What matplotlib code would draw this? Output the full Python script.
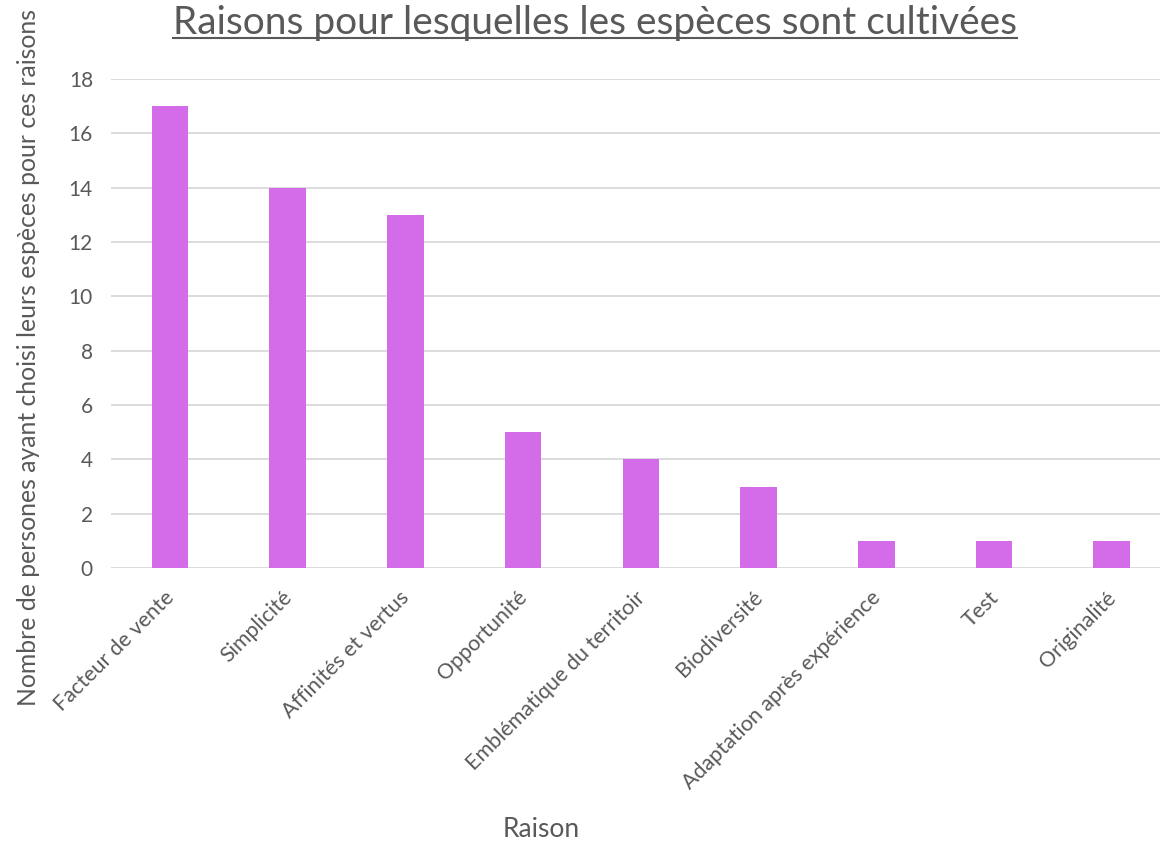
import matplotlib.pyplot as plt
import matplotlib.transforms as mtransforms
from matplotlib.lines import Line2D

raisons = ["Facteur de vente", "Simplicité", "Affinités et vertus", "Opportunité",
           "Emblématique du territoir", "Biodiversité", "Adaptation après expérience",
           "Test", "Originalité"]
nombres = [17, 14, 13, 5, 4, 3, 1, 1, 1]
yticks = [0, 2, 4, 6, 8, 10, 12, 14, 16, 18]

plt.rcParams['font.family'] = ['Lato', 'DejaVu Sans']
gris = '#595959'

fig = plt.figure(figsize=(11.63, 8.42), dpi=100)
ax = fig.add_axes([111 / 1163, 274 / 842, 1049 / 1163, 489 / 842])

ax.bar(range(len(raisons)), nombres, width=0.31, color='#d46be8', zorder=3)

ax.set_ylim(0, 18)
ax.set_xlim(-0.5, 8.41)
ax.set_yticks(yticks)
ax.yaxis.grid(True, color='#d9d9d9', linewidth=1.3, zorder=0)
for s in ax.spines.values():
    s.set_visible(False)
ax.tick_params(length=0, labelsize=15, labelcolor=gris)
ax.tick_params(axis='y', pad=13)
ax.set_xticks(range(len(raisons)))
ax.set_xticklabels(raisons, rotation=45, ha='right', rotation_mode='anchor', fontsize=15.5)
ax.tick_params(axis='x', pad=14)
decal = mtransforms.ScaledTranslation(-6 / 100, 0, fig.dpi_scale_trans)
for lab in ax.get_xticklabels():
    lab.set_transform(lab.get_transform() + decal)

ax.set_xlabel("Raison", fontsize=19, color=gris)
ax.xaxis.set_label_coords(0.41, -0.51)
ax.set_ylabel("Nombre de persones ayant choisi leurs espèces pour ces raisons",
              fontsize=17.8, color=gris)
ax.yaxis.set_label_coords(-0.068, 0.431)

titre = fig.text(595 / 1163, 1 - 23 / 842, "Raisons pour lesquelles les espèces sont cultivées",
                 fontsize=28, color=gris, ha='center', va='center')

# soulignement du titre
fig.canvas.draw()
bb = titre.get_window_extent().transformed(fig.transFigure.inverted())
fig.add_artist(Line2D([bb.x0, bb.x1], [bb.y0 + 0.003, bb.y0 + 0.003],
                      transform=fig.transFigure, color=gris, linewidth=1.5))

fig.savefig("out.png", dpi=100)
